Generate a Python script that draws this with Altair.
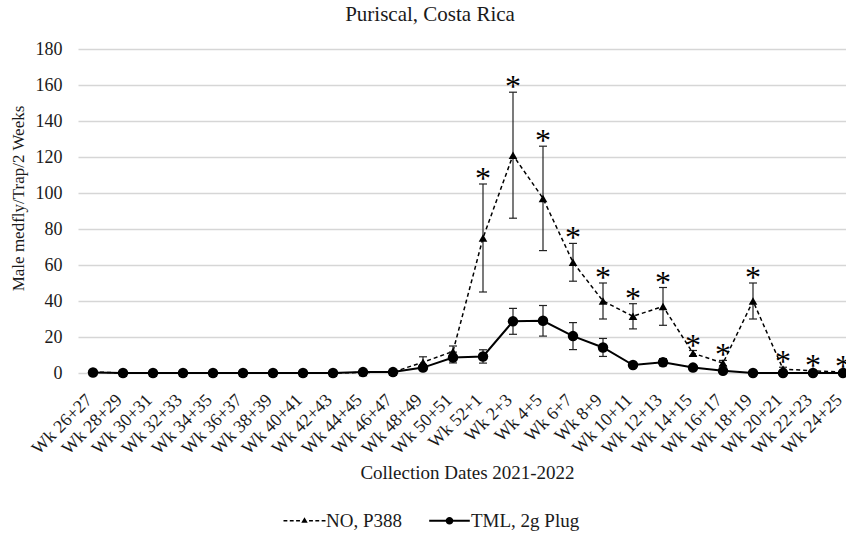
import altair as alt
import pandas as pd

labels = ["Wk 26+27", "Wk 28+29", "Wk 30+31", "Wk 32+33", "Wk 34+35", "Wk 36+37",
          "Wk 38+39", "Wk 40+41", "Wk 42+43", "Wk 44+45", "Wk 46+47", "Wk 48+49",
          "Wk 50+51", "Wk 52+1", "Wk 2+3", "Wk 4+5", "Wk 6+7", "Wk 8+9",
          "Wk 10+11", "Wk 12+13", "Wk 14+15", "Wk 16+17", "Wk 18+19",
          "Wk 20+21", "Wk 22+23", "Wk 24+25"]

no_vals = [0.6, 0, 0, 0, 0, 0, 0, 0, 0, 0.3, 0.5, 6, 12, 75, 121, 97, 61.5, 40,
           31.5, 37, 11, 5.5, 40, 2.2, 1.2, 0.5]
no_err = [0, 0, 0, 0, 0, 0, 0, 0, 0, 0, 0, 3, 3, 30, 35, 29, 10.5, 10,
          7, 10.5, 1.5, 1.5, 10, 1, 0, 0]
tml_vals = [0.3, 0, 0, 0, 0, 0, 0, 0, 0, 0.5, 0.5, 3, 8.6, 9.2, 28.7, 29, 20.5, 14.2,
            4.4, 6, 3, 1.2, 0, 0, 0, 0]
tml_err = [0, 0, 0, 0, 0, 0, 0, 0, 0, 0, 0, 1.5, 3, 3.7, 7.2, 8.5, 7.5, 5,
           0, 2, 0, 0, 0, 0, 0, 0]
stars = [0] * 13 + [1] * 13

series_names = ["NO, P388", "TML, 2g Plug"]

rows = []
for i, lab in enumerate(labels):
    rows.append({"i": i, "label": lab, "series": series_names[0], "v": no_vals[i],
                 "err": no_err[i], "star": stars[i]})
    rows.append({"i": i, "label": lab, "series": series_names[1], "v": tml_vals[i],
                 "err": tml_err[i], "star": 0})
df = pd.DataFrame(rows)

FONT = "Liberation Serif"
TXT = "#1a1a1a"

label_expr = "[" + ",".join(f"'{l}'" for l in labels) + "][datum.value]"

x_axis = alt.Axis(values=list(range(26)), labelExpr=label_expr, labelAngle=-45,
                  labelAlign="right", labelBaseline="middle", labelPadding=24,
                  labelOffset=-4,
                  ticks=False, tickSize=0, domain=False, grid=False,
                  labelFont=FONT, labelFontSize=18, labelColor=TXT,
                  title="Collection Dates 2021-2022", titleFont=FONT,
                  titleFontSize=19, titleFontWeight="normal", titleColor=TXT,
                  titleX=389, titleY=105, titleBaseline="alphabetic",
                  titleAnchor="start", titleAlign="center", labelOverlap=False,
                  labelBound=False, labelFlush=False)
y_axis = alt.Axis(values=list(range(0, 181, 20)), domain=False, ticks=False,
                  labelPadding=16, labelFont=FONT, labelFontSize=18,
                  labelColor=TXT, grid=True, gridColor="#d6d6d6", gridWidth=1.5,
                  labelOverlap=False, labelBound=False, labelFlush=False,
                  title="Male medfly/Trap/2 Weeks", titleFont=FONT,
                  titleFontSize=17, titleFontWeight="normal", titleColor=TXT,
                  titleX=-60, titleY=149, titleAngle=-90, titleAlign="center",
                  titleBaseline="middle", titleAnchor="start")
x_scale = alt.Scale(domain=[-0.5, 25.1], nice=False, zero=False)
y_scale = alt.Scale(domain=[0, 180], nice=False)


def X():
    return alt.X("i:Q", scale=x_scale, axis=x_axis)


def Y(field):
    return alt.Y(f"{field}:Q", scale=y_scale, axis=y_axis)


base = alt.Chart(df)
no_base = base.transform_filter(alt.datum.series == series_names[0])
tml_base = base.transform_filter(alt.datum.series == series_names[1])

no_line = no_base.mark_line(color="black", strokeWidth=1.5, strokeDash=[4, 3]).encode(
    x=X(), y=Y("v"))
tml_line = tml_base.mark_line(color="black", strokeWidth=2).encode(x=X(), y=Y("v"))

err_base = base.transform_filter(alt.datum.err > 0).transform_calculate(
    lo="datum.v - datum.err", hi="datum.v + datum.err")
err_rule = err_base.mark_rule(color="#222", strokeWidth=1.2).encode(
    x=X(), y=Y("lo"), y2="hi:Q")
err_cap_lo = err_base.mark_tick(orient="horizontal", size=8, thickness=1.2,
                                color="#222", opacity=1).encode(x=X(), y=Y("lo"))
err_cap_hi = err_base.mark_tick(orient="horizontal", size=8, thickness=1.2,
                                color="#222", opacity=1).encode(x=X(), y=Y("hi"))

no_pts = no_base.mark_point(shape="triangle-up", filled=True, color="black", size=75,
                            opacity=1).encode(x=X(), y=Y("v"))
tml_pts = tml_base.mark_point(shape="circle", filled=True, color="black", size=110,
                              opacity=1).encode(x=X(), y=Y("v"))

star_txt = no_base.transform_filter(alt.datum.star == 1).transform_calculate(
    top="datum.v + datum.err").mark_text(text="*", font=FONT, fontSize=32,
                                         color="black", baseline="alphabetic",
                                         dy=5).encode(x=X(), y=Y("top"))


def rect(x0, x1, h):
    return f"M{x0},{-h}H{x1}V{h}H{x0}Z"


h = 0.1
no_path = (rect(-3, -2.45, h) + rect(-2.1, -1.55, h) + rect(-1.2, -0.65, h)
           + "M0,-0.5L0.46,0.3L-0.46,0.3Z"
           + rect(0.65, 1.2, h) + rect(1.55, 2.1, h) + rect(2.45, 3, h))
tml_path = (rect(-2.9, 2.9, 0.14)
            + "M0.55,0A0.55,0.55 0 1 1 -0.55,0A0.55,0.55 0 1 1 0.55,0Z")

legend_layer = base.transform_filter("false").mark_point(
    filled=True, color="black", size=196, opacity=1).encode(
    x=X(), y=Y("v"),
    shape=alt.Shape("series:N",
                    scale=alt.Scale(domain=series_names, range=[no_path, tml_path]),
                    legend=alt.Legend(title=None, orient="none", legendX=217,
                                      legendY=462, direction="horizontal", columns=2,
                                      symbolSize=196, labelOffset=12, columnPadding=23,
                                      labelFont=FONT, labelFontSize=19, labelColor=TXT,
                                      symbolFillColor="black", symbolOpacity=1,
                                      padding=0)))

chart = alt.layer(no_line, tml_line, err_rule, err_cap_lo, err_cap_hi, no_pts, tml_pts,
                  star_txt, legend_layer).properties(
    width=768, height=324,
    padding={"left": 78, "top": 49, "right": 0, "bottom": 163},
    autosize="none",
    title=alt.Title("Puriscal,  Costa Rica", font=FONT, fontSize=21,
                    fontWeight="normal", color=TXT, anchor="middle", baseline="bottom",
                    offset=22, dx=-32, dy=28),
    background="white",
).configure_view(stroke=None).configure_axis(
    labelFont=FONT, titleFont=FONT, labelColor=TXT, titleColor=TXT
).configure_legend(labelFont=FONT)

chart.save("out.html", embed_options={"renderer": "svg", "actions": False})
